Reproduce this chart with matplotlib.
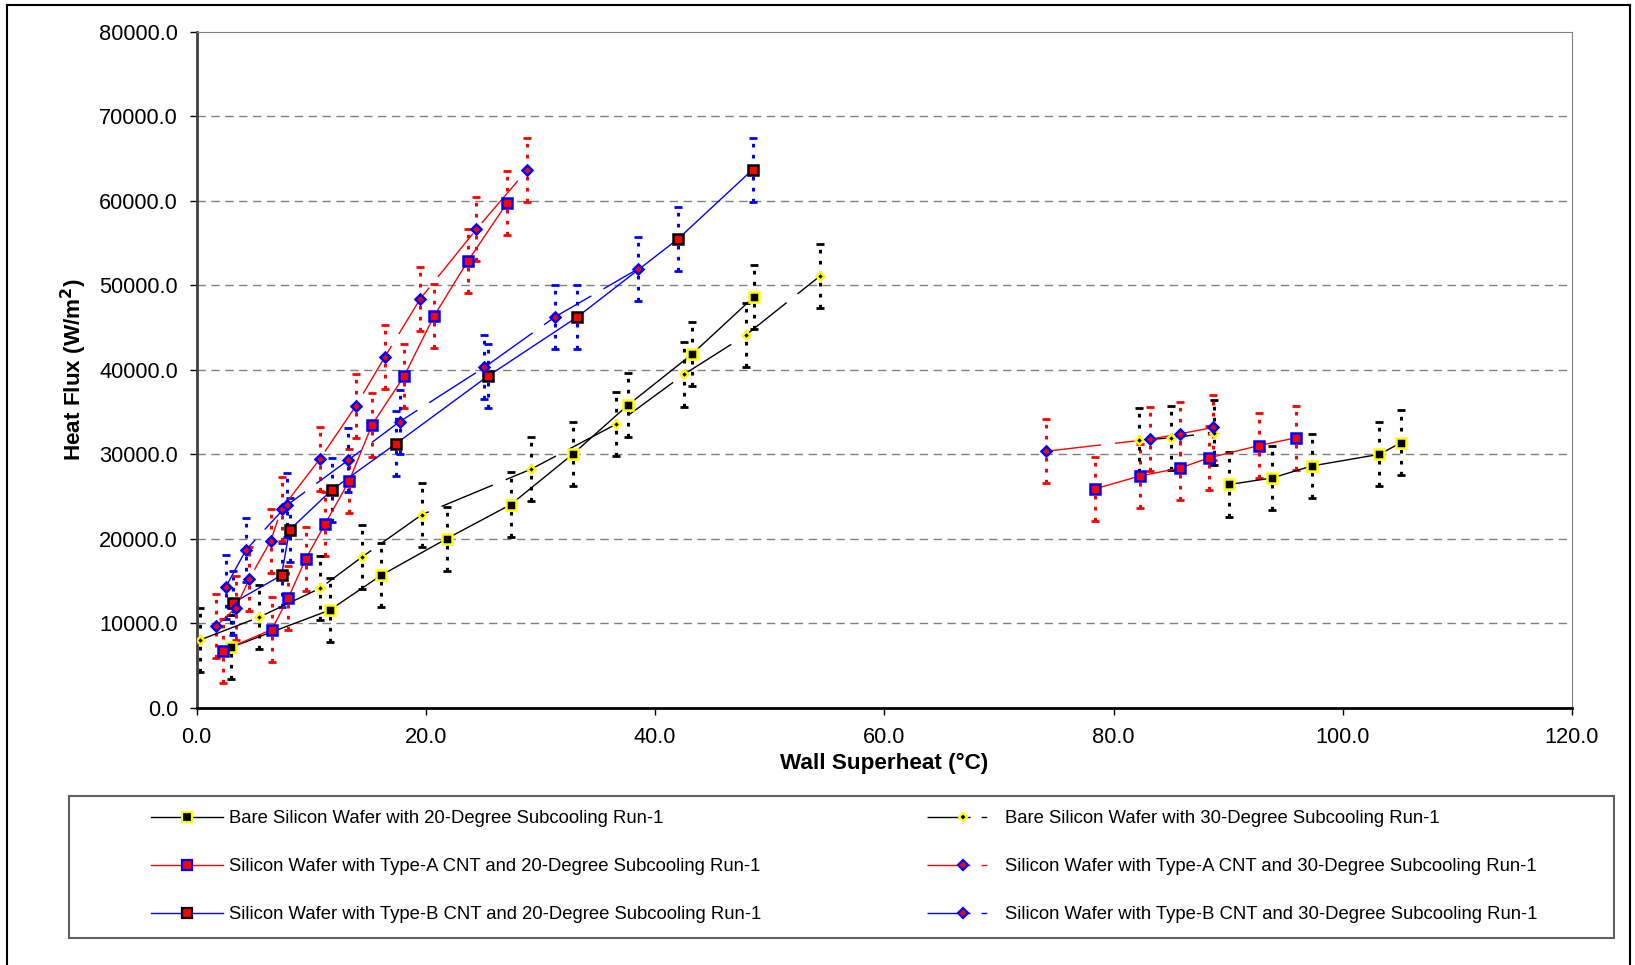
import numpy as np
import matplotlib
matplotlib.use('Agg')
import matplotlib.pyplot as plt
from matplotlib.lines import Line2D

plt.rcParams['font.family'] = ['Liberation Sans', 'DejaVu Sans']

nan = np.nan

# Bare silicon wafer, 20-degree subcooling (nan splits the two groups)
bare20_x = [2.98, 11.6, 16.1, 21.8, 27.4, 32.8, 37.6, 43.2, 48.6, nan, 90.1, 93.8, 97.3, 103.2, 105.1]
bare20_y = [7140, 11550, 15680, 20000, 24050, 30000, 35800, 41830, 48620, nan, 26430, 27190, 28620, 30000, 31390]

# Bare silicon wafer, 30-degree subcooling
bare30_x = [0.29, 5.44, 10.75, 14.4, 19.65, 29.2, 36.6, 42.5, 47.9, 54.4, nan, 82.2, 85.0, 88.8]
bare30_y = [8020, 10710, 14130, 17820, 22860, 28260, 33570, 39450, 44100, 51120, nan, 31670, 31950, 32580]

# Type-A CNT, 20-degree subcooling
a20_x = [2.26, 6.55, 8.0, 9.5, 11.2, 13.3, 15.3, 18.1, 20.7, 23.65, 27.1, nan, 78.4, 82.3, 85.8, 88.3, 92.7, 95.9]
a20_y = [6750, 9250, 13020, 17580, 21750, 26830, 33500, 39250, 46350, 52860, 59800, nan, 25920, 27430, 28380, 29570, 31040, 31950]

# Type-A CNT, 30-degree subcooling
a30_x = [1.68, 3.42, 4.57, 6.46, 7.4, 10.75, 13.9, 16.4, 19.5, 24.4, 28.8, nan, 74.1, 83.2, 85.8, 88.7]
a30_y = [9650, 11830, 15200, 19760, 23540, 29450, 35760, 41500, 48400, 56640, 63620, nan, 30360, 31790, 32430, 33180]

# Type-B CNT, 20-degree subcooling
b20_x = [3.2, 7.4, 8.1, 11.8, 17.4, 25.4, 33.2, 42.0, 48.5]
b20_y = [12430, 15680, 21040, 25800, 31270, 39250, 46250, 55500, 63700]

# Type-B CNT, 30-degree subcooling
b30_x = [2.55, 4.29, 7.9, 13.2, 17.7, 25.1, 31.3, 38.5]
b30_y = [14330, 18650, 24000, 29290, 33860, 40300, 46300, 51950]

flux_err = 3800

labels = [
    'Bare Silicon Wafer with 20-Degree Subcooling Run-1',
    'Silicon Wafer with Type-A CNT and 20-Degree Subcooling Run-1',
    'Silicon Wafer with Type-B CNT and 20-Degree Subcooling Run-1',
    'Bare Silicon Wafer with 30-Degree Subcooling Run-1',
    'Silicon Wafer with Type-A CNT and 30-Degree Subcooling Run-1',
    'Silicon Wafer with Type-B CNT and 30-Degree Subcooling Run-1',
]

W, H = 1635, 965
fig = plt.figure(figsize=(W / 100, H / 100), dpi=100)
ax = fig.add_axes([196.7 / W, 1 - 707.7 / H, (1572 - 196.7) / W, (707.7 - 32) / H])

long_dash = (0, (40, 10))
legend_dash = (0, (31, 8, 4, 60))
dot = (0, (1.2, 2.4))

series = [
    # x, y, line colour, line style, legend style, marker, face, edge, size, errcolor
    (bare20_x, bare20_y, 'black', '-', '-', 's', 'black', '#ffff00', 7.5, 'black'),
    (a20_x, a20_y, '#ff0000', '-', '-', 's', '#ff0000', '#0000ff', 7.5, '#ff0000'),
    (b20_x, b20_y, '#0000ff', '-', '-', 's', '#ff0000', 'black', 7.5, '#0000ff'),
    (bare30_x, bare30_y, 'black', long_dash, legend_dash, 'D', 'black', '#ffff00', 4.5, 'black'),
    (a30_x, a30_y, '#ff0000', long_dash, legend_dash, 'D', '#ff0000', '#0000ff', 5.5, '#ff0000'),
    (b30_x, b30_y, '#0000ff', long_dash, legend_dash, 'D', '#ff0000', '#0000ff', 5.5, '#0000ff'),
]

handles = []
for x, y, lc, ls, lls, mk, fc, ec, ms, errc in series:
    eb = ax.errorbar(x, y, yerr=flux_err, fmt='none', ecolor=errc, elinewidth=2.2,
                     capsize=3, capthick=2, zorder=2)
    eb[2][0].set_linestyle(dot)
    ax.plot(x, y, color=lc, linestyle=ls, linewidth=1, zorder=3)
    ax.plot(x, y, linestyle='none', marker=mk, markersize=ms, markerfacecolor=fc,
            markeredgecolor=ec, markeredgewidth=1.8, zorder=4)
    handles.append(Line2D([], [], color=lc, linestyle=lls, linewidth=1, marker=mk,
                          markersize=ms * 0.9, markerfacecolor=fc, markeredgecolor=ec,
                          markeredgewidth=1.6))

ax.set_xlim(0, 120)
ax.set_ylim(0, 80000)
ax.set_xticks(np.arange(0, 121, 20))
ax.set_yticks(np.arange(0, 80001, 10000))
ax.xaxis.set_major_formatter(matplotlib.ticker.FormatStrFormatter('%.1f'))
ax.yaxis.set_major_formatter(matplotlib.ticker.FormatStrFormatter('%.1f'))
ax.tick_params(axis='both', direction='out', length=5, width=1, labelsize=15.7, colors='black')
ax.tick_params(axis='y', pad=8.5)
ax.tick_params(axis='x', pad=9)

for yv in range(10000, 80000, 10000):
    ax.axhline(yv, color='#808080', linewidth=1, linestyle=(0, (6, 4)), zorder=1)

ax.spines['left'].set_color('#404040')
ax.spines['left'].set_linewidth(2)
ax.spines['bottom'].set_color('black')
ax.spines['bottom'].set_linewidth(2)
ax.spines['top'].set_color('#808080')
ax.spines['right'].set_color('#808080')

ax.set_xlabel('Wall Superheat (°C)', fontsize=16.2, fontweight='bold')
ax.xaxis.set_label_coords(0.5, -0.082)
ax.xaxis.label.set_va('center')
ax.set_ylabel(r'Heat Flux (W/m$\mathbf{^2}$)', fontsize=16.2, fontweight='bold')
ax.yaxis.set_label_coords(-0.0895, 0.5)
ax.yaxis.label.set_va('center')

# legend box and entries
fig.patches.append(plt.Rectangle((69 / W, 1 - 938 / H), (1614 - 69) / W, (938 - 796) / H,
                                 transform=fig.transFigure, facecolor='white',
                                 edgecolor='#606060', linewidth=1.5))
fig.legend(handles, labels, ncol=2, loc='center', mode='expand', frameon=False,
           bbox_to_anchor=(151 / W, 1 - 866.5 / H, (1537 - 151) / W, 0),
           fontsize=13.3, handlelength=3.9, handletextpad=0.3, labelspacing=1.68,
           borderpad=0, borderaxespad=0)

# outer chart border
for xs, ys in [([7, 7], [0, H - 5]), ([7, 1630], [H - 5, H - 5]), ([1630, 1630], [0, H - 5])]:
    fig.lines.append(Line2D([v / W for v in xs], [v / H for v in ys], color='black',
                            linewidth=1.5, transform=fig.transFigure))

fig.savefig('out.png', dpi=100)
